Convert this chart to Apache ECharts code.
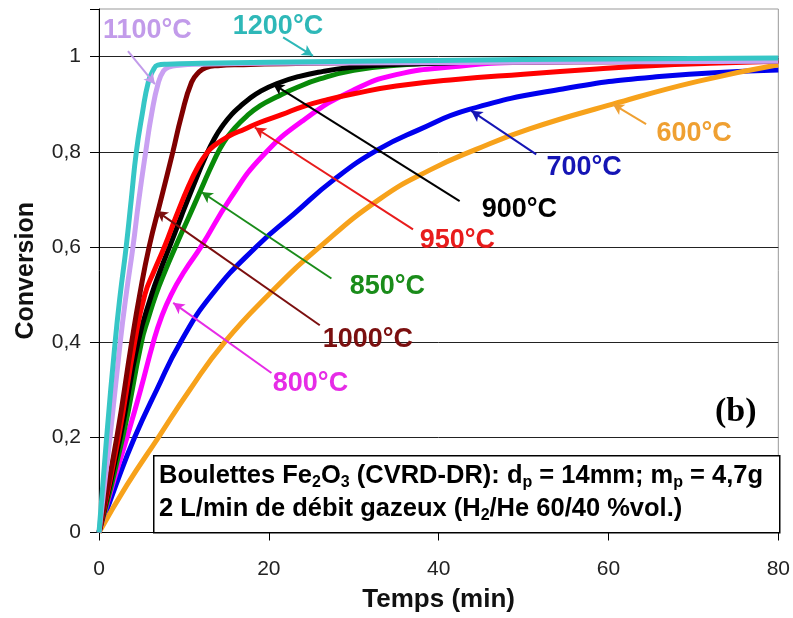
<!DOCTYPE html>
<html><head><meta charset="utf-8">
<script src="https://cdn.jsdelivr.net/npm/echarts@6/dist/echarts.min.js"></script>
<style>html,body{margin:0;padding:0;background:#fff}#c{width:793px;height:618px}</style>
</head><body><div id="c"></div>
<script>
// ---- tick labels ----
const xTickLabels = ['0', '20', '40', '60', '80'];
const yTickLabels = ['0', '0,2', '0,4', '0,6', '0,8', '1'];

// ---- series data (time in min, conversion) ----
const t600 = [0, 3.3, 7, 10.7, 14.8, 20, 26, 33, 39, 44.4, 50.7, 60.5, 70.5, 80];
const c600 = [0, 0.1, 0.2, 0.3, 0.4, 0.5, 0.6, 0.7, 0.762, 0.805, 0.848, 0.9, 0.948, 0.983];

const t700 = [0, 2.0, 4.2, 6.8, 9.6, 13.3, 18.5, 23, 27.7, 32.9, 37.5, 43.6, 54.6, 66, 80];
const c700 = [0, 0.1, 0.2, 0.3, 0.4, 0.5, 0.6, 0.67, 0.742, 0.805, 0.845, 0.889, 0.932, 0.958, 0.972];

const t800 = [0, 1.6, 3.3, 4.9, 6.4, 7.3, 8.5, 10.1, 12.0, 15.4, 19.2, 24.2, 30, 35, 42, 50, 80];
const c800 = [0, 0.1, 0.2, 0.3, 0.4, 0.45, 0.5, 0.55, 0.6, 0.7, 0.79, 0.868, 0.93, 0.962, 0.979, 0.988, 0.994];

const t850 = [0, 2.8, 5.0, 5.8, 6.7, 7.8, 9.0, 10.5, 12.0, 13.5, 14.7, 16, 17.4, 19, 20.9, 23.3, 26, 30, 35, 42, 55, 80];
const c850 = [0, 0.2, 0.4, 0.45, 0.5, 0.55, 0.6, 0.66, 0.72, 0.78, 0.82, 0.85, 0.875, 0.897, 0.915, 0.935, 0.953, 0.971, 0.982, 0.988, 0.991, 0.993];

const t900 = [0, 2.5, 4.6, 6.2, 7.2, 8.3, 9.7, 11.1, 12.5, 13.6, 14.6, 15.6, 16.6, 17.6, 19, 20.9, 23.5, 26.4, 29.5, 33, 38, 45, 60, 80];
const c900 = [0, 0.2, 0.4, 0.5, 0.55, 0.6, 0.665, 0.728, 0.788, 0.828, 0.856, 0.878, 0.895, 0.91, 0.927, 0.943, 0.958, 0.969, 0.977, 0.982, 0.985, 0.988, 0.99, 0.992];

const t950 = [0, 2.3, 4.2, 5.4, 6.5, 7.7, 9.1, 10.6, 11.7, 12.6, 13.5, 15.2, 17.2, 19, 21.5, 24, 27, 30, 35, 42, 50, 58.6, 65, 72, 80];
const c950 = [0, 0.2, 0.4, 0.5, 0.55, 0.6, 0.665, 0.73, 0.77, 0.795, 0.812, 0.832, 0.848, 0.862, 0.878, 0.895, 0.91, 0.922, 0.938, 0.952, 0.963, 0.974, 0.981, 0.986, 0.99];

const t1000 = [0, 2.1, 3.85, 4.8, 5.9, 7.3, 8.7, 9.7, 10.9, 11.8, 12.6, 14, 17, 22, 30, 80];
const c1000 = [0, 0.2, 0.4, 0.5, 0.6, 0.7, 0.8, 0.875, 0.946, 0.968, 0.977, 0.981, 0.983, 0.985, 0.987, 0.99];

const t1100 = [0, 1.3, 2.5, 3.2, 4.0, 4.7, 5.5, 6.2, 7.0, 7.6, 8.2, 9.5, 12, 20, 80];
const c1100 = [0, 0.2, 0.4, 0.5, 0.6, 0.7, 0.8, 0.88, 0.946, 0.97, 0.978, 0.982, 0.984, 0.986, 0.99];

const t1200 = [0, 0.9, 1.9, 2.5, 3.2, 3.8, 4.4, 5.1, 5.8, 6.4, 6.9, 8, 12, 20, 30, 40, 50, 60, 70, 80];
const c1200 = [0, 0.2, 0.4, 0.5, 0.6, 0.7, 0.8, 0.88, 0.946, 0.972, 0.982, 0.984, 0.986, 0.988, 0.99, 0.992, 0.994, 0.995, 0.996, 0.997];

// ---- series names / labels ----
const names = ['700°C', '600°C', '800°C', '850°C', '900°C', '950°C', '1000°C', '1100°C', '1200°C'];
const times = [t700, t600, t800, t850, t900, t950, t1000, t1100, t1200];
const values = [c700, c600, c800, c850, c900, c950, c1000, c1100, c1200];

// ---- styles ----
const lineColors = ['#0000EE', '#F7A21B', '#FF00FF', '#088A08', '#000000', '#FF0000', '#800000', '#C9A0F2', '#36C6C6'];
const textColors = ['#1515B5', '#EFA032', '#E62CE6', '#1A8C1A', '#000000', '#E81C1C', '#7B0F0F', '#C29BEA', '#2EB8B8'];
// annotation anchors in data coordinates: label left-middle point, arrow start, arrow tip
const labelAt = [[52.7, 0.7674], [65.65, 0.8389], [20.47, 0.3126], [29.53, 0.5168], [45.06, 0.6789], [37.76, 0.6137], [26.35, 0.4053], [0.47, 1.0537], [15.76, 1.0621]];
const arrowFrom = [[51.49, 0.7947], [64.43, 0.8579], [20.31, 0.3351], [27.37, 0.5337], [42.47, 0.6964], [36.98, 0.6368], [26.0, 0.4354], [3.41, 1.0116], [21.68, 1.0404]];
const arrowTo = [[43.84, 0.886], [60.51, 0.90], [8.74, 0.4825], [12.08, 0.7154], [20.51, 0.9421], [18.35, 0.851], [6.79, 0.6754], [6.59, 0.942], [25.2, 1.0017]];

const FONT = '"Liberation Sans", Arial, Helvetica, sans-serif';

const series = names.map((n, i) => ({
  name: n,
  type: 'line',
  data: times[i].map((t, k) => [t, values[i][k]]),
  showSymbol: false,
  smooth: 0.5,
  lineStyle: { color: lineColors[i], width: 5 },
  itemStyle: { color: lineColors[i] },
  z: 2 + i,
  markLine: {
    silent: true,
    z: 20,
    symbol: ['none', 'arrow'],
    symbolSize: [9, 11],
    label: { show: false },
    lineStyle: { type: 'solid', color: textColors[i], width: 2 },
    data: [[{ coord: arrowFrom[i] }, { coord: arrowTo[i] }]]
  },
  markPoint: {
    silent: true,
    z: 20,
    symbol: 'circle',
    symbolSize: 0,
    label: {
      show: true, position: 'right', distance: 0,
      formatter: n, color: textColors[i],
      fontFamily: FONT, fontSize: 27, fontWeight: 'bold'
    },
    data: [{ coord: labelAt[i] }]
  }
}));

const chart = echarts.init(document.getElementById('c'), null, { renderer: 'canvas' });
chart.setOption({
  animation: false,
  backgroundColor: '#ffffff',
  grid: { left: 99, right: 14, top: 9, bottom: 85.5, show: true, borderColor: '#999', borderWidth: 1, backgroundColor: '#fff' },
  xAxis: {
    type: 'value', min: 0, max: 80, interval: 20,
    axisLine: { show: true, onZero: false, lineStyle: { color: '#000', width: 1 } },
    axisTick: { show: true, length: 8, lineStyle: { color: '#000' } },
    axisLabel: { fontFamily: FONT, fontSize: 21, color: '#222', margin: 26,
      formatter: v => xTickLabels[Math.round(v / 20)] },
    splitLine: { show: false },
    name: 'Temps (min)', nameLocation: 'middle', nameGap: 54,
    nameTextStyle: { fontFamily: FONT, fontSize: 26, fontWeight: 'bold', color: '#111' }
  },
  yAxis: {
    type: 'value', min: 0, max: 1.1, interval: 0.2,
    axisLine: { show: true, lineStyle: { color: '#000', width: 1 } },
    axisTick: { show: true, length: 9, lineStyle: { color: '#000' } },
    axisLabel: { fontFamily: FONT, fontSize: 21, color: '#222', margin: 18,
      formatter: v => (v > 1.05 ? '' : yTickLabels[Math.round(v / 0.2)]) },
    splitLine: { show: true, showMaxLine: false, lineStyle: { color: '#222', width: 1 } },
    name: 'Conversion', nameLocation: 'middle', nameGap: 60,
    nameTextStyle: { fontFamily: FONT, fontSize: 25, fontWeight: 'bold', color: '#111' }
  },
  series: series,
  graphic: [
    { type: 'rect', left: 153, top: 455, shape: { width: 626, height: 77 }, z: 30,
      style: { fill: '#fff', stroke: '#000', lineWidth: 1.5 } },
    { type: 'text', left: 159, top: 463, z: 31,
      style: {
        text: '{t|Boulettes Fe}{s|2}{t|O}{s|3}{t| (CVRD-DR): d}{s|p}{t| = 14mm; m}{s|p}{t| = 4,7g}\n{t|2 L/min de débit gazeux (H}{s|2}{t|/He 60/40 %vol.)}',
        rich: {
          t: { fontFamily: FONT, fontSize: 25.5, fontWeight: 'bold', fill: '#000', lineHeight: 33 },
          s: { fontFamily: FONT, fontSize: 16, fontWeight: 'bold', fill: '#000', padding: [13, 0, 0, 0] }
        }
      } },
    { type: 'text', left: 715, top: 395, z: 31,
      style: { text: '(b)', fontFamily: '"Liberation Serif", "Times New Roman", serif', fontSize: 34, fontWeight: 'bold', fill: '#000' } }
  ]
});
</script></body></html>
